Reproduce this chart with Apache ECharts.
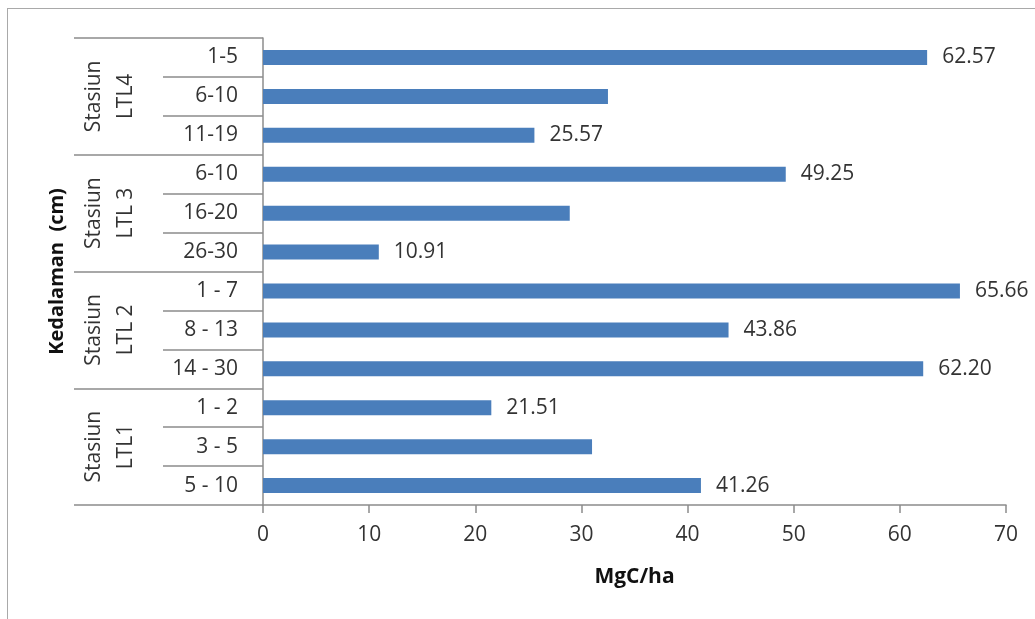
<!DOCTYPE html>
<html>
<head>
<meta charset="utf-8">
<script src="https://cdn.jsdelivr.net/npm/echarts@6/dist/echarts.min.js"></script>
<style>
  html, body { margin: 0; padding: 0; background: #fff; }
  #wrap { position: relative; width: 1035px; height: 619px; overflow: hidden; }
  #frame { position: absolute; left: 7px; top: 8px; width: 1100px; height: 700px;
           border-left: 1.5px solid #a9a9a9; border-top: 1.5px solid #a9a9a9; }
  #chart { position: absolute; left: 0; top: 0; width: 1035px; height: 619px; }
</style>
</head>
<body>
<div id="wrap">
  <div id="frame"></div>
  <div id="chart"></div>
</div>
<script>
// Depth classes, top to bottom, grouped by station
const depthLabels = ['1-5', '6-10', '11-19', '6-10', '16-20', '26-30',
                     '1 - 7', '8 - 13', '14 - 30', '1 - 2', '3 - 5', '5 - 10'];
const stationLabels = ['Stasiun\nLTL4', 'Stasiun\nLTL 3', 'Stasiun\nLTL 2', 'Stasiun\nLTL1'];
// Carbon stock, MgC/ha
const carbonValues = [62.57, 32.5, 25.57, 49.25, 28.9, 10.91, 65.66, 43.86, 62.20, 21.51, 31.0, 41.26];
// Which bars carry a value label
const labelShown = [true, false, true, true, false, true, true, true, true, true, false, true];
const valueTicks = { min: 0, max: 70, interval: 10 };

const FONT = '"Open Sans", "Liberation Sans", sans-serif';
const TEXT = '#333333';
const LINE = '#8c8c8c';

const chart = echarts.init(document.getElementById('chart'), null, { renderer: 'canvas' });

chart.setOption({
  backgroundColor: 'transparent',
  animation: false,
  grid: { left: 263, right: 29, top: 38, bottom: 114, containLabel: false },
  xAxis: {
    type: 'value',
    min: valueTicks.min, max: valueTicks.max, interval: valueTicks.interval,
    name: 'MgC/ha', nameLocation: 'middle', nameGap: 62,
    nameTextStyle: { fontFamily: FONT, fontSize: 21, fontWeight: 'bold', color: '#111' },
    axisLine: { show: true, lineStyle: { color: LINE, width: 1.5 } },
    axisTick: { show: true, length: 8, lineStyle: { color: LINE, width: 1.5 } },
    axisLabel: { fontFamily: FONT, fontSize: 21, color: TEXT, margin: 20 },
    splitLine: { show: false }
  },
  yAxis: [
    {
      type: 'category', position: 'left', inverse: true,
      data: depthLabels,
      axisLine: { show: true, lineStyle: { color: LINE, width: 1.5 } },
      axisTick: { show: true, interval: 0, length: 100, lineStyle: { color: LINE, width: 1.5 } },
      axisLabel: { interval: 0, fontFamily: FONT, fontSize: 21, color: TEXT, margin: 25 },
      splitLine: { show: false }
    },
    {
      type: 'category', position: 'left', inverse: true,
      data: stationLabels,
      name: 'Kedalaman  (cm)', nameLocation: 'middle', nameGap: 196,
      nameTextStyle: { fontFamily: FONT, fontSize: 20, fontWeight: 'bold', color: '#111' },
      axisLine: { show: false },
      axisTick: { show: true, interval: 0, length: 189, lineStyle: { color: LINE, width: 1.5 } },
      axisLabel: { interval: 0, rotate: 90, fontFamily: FONT, fontSize: 21, lineHeight: 32,
                   color: TEXT, margin: 121 },
      splitLine: { show: false }
    }
  ],
  series: [{
    type: 'bar',
    yAxisIndex: 0,
    barWidth: 15,
    itemStyle: { color: '#4a7ebb' },
    data: carbonValues.map((v, i) => ({
      value: v,
      label: {
        show: labelShown[i], position: 'right', distance: 15,
        fontFamily: FONT, fontSize: 21, color: TEXT,
        formatter: p => p.value.toFixed(2)
      }
    }))
  }]
});
</script>
</body>
</html>
